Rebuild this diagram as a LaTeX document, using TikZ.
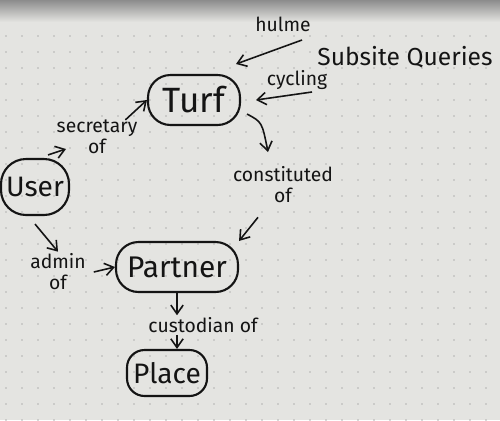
\documentclass[tikz,border=0pt]{standalone}
\usepackage{fontspec}
\setmainfont{Fira Sans}
\usetikzlibrary{arrows.meta}
\definecolor{paper}{RGB}{228,228,225}
\definecolor{ink}{RGB}{20,20,20}
\tikzset{
  ent/.style={draw=ink, line width=1.2pt, rounded corners=0.45cm, inner sep=0pt, text=ink},
  lab/.style={font=\fontsize{11}{12}\selectfont, text=ink, align=center, inner sep=1pt},
  conn/.style={draw=ink, line width=0.9pt, -{Straight Barb[length=5pt,width=7pt]}},
}
\begin{document}
\begin{tikzpicture}[x=0.02cm,y=-0.02cm]
\fill[paper] (0,0) rectangle (500,420);
\shade[top color=black!45, bottom color=paper] (0,0) rectangle (500,22);
\useasboundingbox (0,0) rectangle (500,420);
\foreach \i in {0,...,31} \foreach \j in {2,...,26}
  \fill[black!30] (\i*16+6,\j*16+4) circle (0.8);
% entities
\node[ent, minimum width=1.84cm, minimum height=1.0cm, font=\fontsize{20}{22}\selectfont] (turf) at (194,100) {Turf};
\node[ent, minimum width=1.36cm, minimum height=1.12cm, rounded corners=0.5cm, font=\fontsize{16}{18}\selectfont] (user) at (35,187) {User};
\node[ent, minimum width=2.44cm, minimum height=1.0cm, font=\fontsize{17}{19}\selectfont] (partner) at (177,267) {Partner};
\node[ent, minimum width=1.6cm, minimum height=0.92cm, rounded corners=0.35cm, font=\fontsize{16}{18}\selectfont] (place) at (167,373) {Place};
% labels
\node[lab, font=\fontsize{14}{15}\selectfont] (sq) at (405,57) {Subsite Queries};
\node[lab] (hulme) at (283,24) {hulme};
\node[lab] (cyc) at (297,80) {cycling};
\node[lab] (sec) at (97,137) {secretary\\of};
\node[lab] (con) at (283,185) {constituted\\of};
\node[lab] (adm) at (58,272) {admin\\of};
\node[lab] (cus) at (203,325) {custodian of};
\coordinate (hulmeA) at (302,40);
\coordinate (hulmeB) at (236,64);
\coordinate (cycA) at (312,92);
\coordinate (cycB) at (256,100);
\coordinate (secTail) at (66,149);
% connectors
\draw[conn] (hulmeA) -- (hulmeB);
\draw[conn] (cycA) -- (cycB);
\draw[conn] (user.north) ++(13,-3) -- (secTail);
\draw[conn] (sec.north east) ++(-14,2) -- (turf.west);
\draw[conn] (turf.south east) ++(6,-12) .. controls (262,122) .. (268,152);
\draw[conn] (con.south) ++(-25,12) -- (partner.north east);
\draw[conn] (user.south) ++(0,8) -- (adm.north);
\draw[conn] (adm.east) ++(6,0) -- (partner.west);
\draw[conn] (partner.south) -- (cus.north -| partner.south);
\draw[conn] (cus.south -| partner.south) -- (place.north -| partner.south);
\end{tikzpicture}
\end{document}
